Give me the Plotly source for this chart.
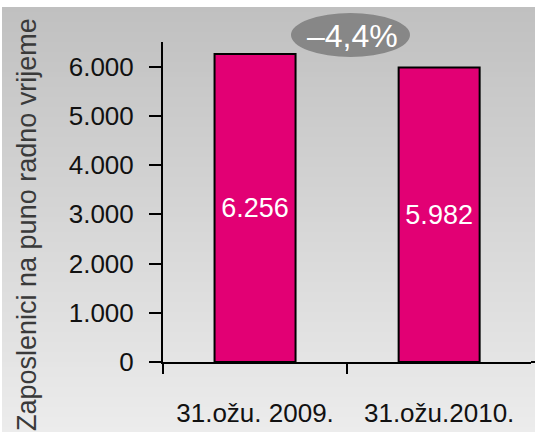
import plotly.graph_objects as go

categories = ["31.ožu. 2009.", "31.ožu.2010."]
employees = [6256, 5982]
change_label = "–4,4%"
y_title = "Zaposlenici na puno radno vrijeme"
y_ticks = [0, 1000, 2000, 3000, 4000, 5000, 6000]

W, H = 535, 432
ML, MR, MT, MB = 163, 4, 42, 70
PW, PH = W - ML - MR, H - MT - MB

def px_x(p):
    return (p - ML) / PW

def px_y(p):
    return (H - MB - p) / PH

FONT = "Liberation Sans"

fig = go.Figure()
fig.add_trace(go.Bar(
    x=categories, y=employees,
    width=0.44,
    marker=dict(color="#E20074", line=dict(color="#000000", width=2)),
    texttemplate="%{y:,}",
    textposition="inside",
    insidetextanchor="middle",
    textfont=dict(family=FONT, size=27, color="white"),
    hoverinfo="skip",
))

shapes = []
# gradient background
n = 85
top_px, bot_px = 7, H
c_top, c_bot = 192, 236
for i in range(n):
    y0p = top_px + (bot_px - top_px) * i / n
    y1p = top_px + (bot_px - top_px) * (i + 1) / n
    c = round(c_top + (c_bot - c_top) * (i + 0.5) / n)
    shapes.append(dict(type="rect", xref="paper", yref="paper", layer="below",
                       x0=px_x(2), x1=px_x(W + 2), y0=px_y(y1p + 0.5), y1=px_y(y0p),
                       fillcolor=f"rgb({c},{c},{c})", line=dict(width=0)))
# x axis line extension to the right edge
shapes.append(dict(type="line", xref="paper", yref="paper", layer="above",
                   x0=1, x1=px_x(W + 2), y0=0, y1=0, line=dict(color="#000", width=2)))
# grey ellipse behind change label
shapes.append(dict(type="circle", xref="paper", yref="paper", layer="above",
                   x0=px_x(291), x1=px_x(410), y0=px_y(57), y1=px_y(13),
                   fillcolor="#878787", line=dict(width=0)))

annotations = [
    dict(text=change_label, xref="paper", yref="paper", x=px_x(352), y=px_y(36),
         showarrow=False, font=dict(family=FONT, size=32, color="white"),
         xanchor="center", yanchor="middle"),
    dict(text=y_title, xref="paper", yref="paper", x=px_x(27), y=px_y(225),
         showarrow=False, textangle=-90, font=dict(family=FONT, size=27, color="#3a3a3a"),
         xanchor="center", yanchor="middle"),
]

fig.update_layout(
    width=W, height=H,
    margin=dict(l=ML, r=MR, t=MT, b=MB, pad=0),
    paper_bgcolor="white",
    plot_bgcolor="rgba(0,0,0,0)",
    separators=",.",
    showlegend=False,
    shapes=shapes,
    annotations=annotations,
    font=dict(family=FONT, color="#111111"),
    xaxis=dict(
        type="category",
        range=[-0.5, 1.499],
        tickson="boundaries",
        ticks="outside", ticklen=10, tickwidth=2, tickcolor="#000",
        showline=True, linecolor="#000", linewidth=2,
        showgrid=False, zeroline=False,
        tickfont=dict(family=FONT, size=26, color="#111"),
        ticklabelstandoff=27,
    ),
    yaxis=dict(
        range=[0, 6500],
        tickvals=y_ticks,
        tickformat=",d",
        ticks="outside", ticklen=12, tickwidth=2, tickcolor="#000",
        showline=True, linecolor="#000", linewidth=2,
        showgrid=False, zeroline=False,
        tickfont=dict(family=FONT, size=26, color="#111"),
        ticklabelstandoff=10,
    ),
)

fig.write_html("out.html", config={"displayModeBar": False},
               post_script="document.body.style.margin='0';document.body.style.overflow='hidden';")
